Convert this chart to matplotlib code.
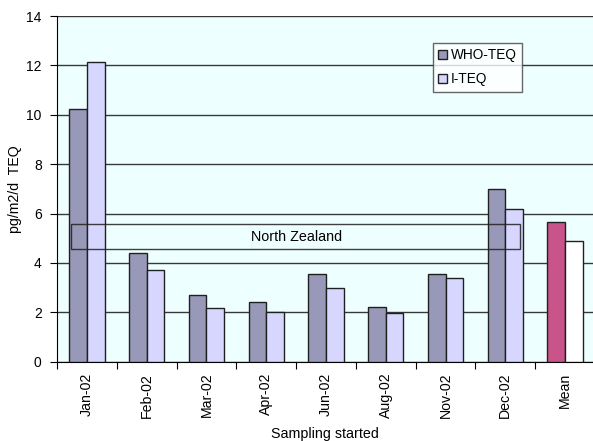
import matplotlib
matplotlib.use("Agg")
import matplotlib.pyplot as plt
import numpy as np
from matplotlib.patches import Rectangle

plt.rcParams['font.family'] = ['Liberation Sans', 'DejaVu Sans']

categories = ["Jan-02", "Feb-02", "Mar-02", "Apr-02", "Jun-02", "Aug-02", "Nov-02", "Dec-02", "Mean"]
who_teq = [10.22, 4.41, 2.71, 2.43, 3.56, 2.23, 3.56, 6.98, 5.64]
i_teq = [12.15, 3.70, 2.19, 2.00, 3.00, 1.96, 3.38, 6.17, 4.89]
region_low, region_high = 4.55, 5.57
region_label = "North Zealand"

who_color = "#9898B8"
i_color = "#D6D6FF"
mean_who_color = "#C8548A"
mean_i_color = "#FFFFFF"
edge = "#202020"

fig = plt.figure(figsize=(5.93, 4.41), dpi=100)
# plot area runs slightly past the right edge of the canvas
ax_h = 361.7 - 16
ax = fig.add_axes([57 / 593, 1 - 361.7 / 441, 538 / 593, ax_h / 441])
ax.set_facecolor("#EEFFFF")

x = np.arange(len(categories))
w = 0.295
who_colors = [who_color] * (len(categories) - 1) + [mean_who_color]
i_colors = [i_color] * (len(categories) - 1) + [mean_i_color]
ax.bar(x - w / 2, who_teq, w, color=who_colors, edgecolor=edge, linewidth=1.0, zorder=3, label="WHO-TEQ")
ax.bar(x + w / 2, i_teq, w, color=i_colors, edgecolor=edge, linewidth=1.0, zorder=3, label="I-TEQ")

ax.set_xlim(-0.5, len(categories) - 0.5)
ax.set_ylim(0, 14)
ax.set_yticks(np.arange(0, 15, 2))
ax.yaxis.grid(True, color="#383838", linewidth=1.0, zorder=1)
ax.set_axisbelow(True)

# regional band drawn over the bars
ax.add_patch(Rectangle((-0.26, region_low), 7.51, region_high - region_low,
                       fill=False, edgecolor="#202020", linewidth=1.0, zorder=5, alpha=0.85))
ax.text(3.5, (region_low + region_high) / 2, region_label, ha="center", va="center",
        fontsize=10.3, zorder=6)

ax.set_xticks(np.arange(-0.5, len(categories), 1.0), minor=False)
ax.set_xticklabels([])
ax.set_xticks(x, minor=True)
ax.set_xticklabels(categories, minor=True, rotation=90, fontsize=10.2)
ax.tick_params(axis="x", which="major", length=5, direction="out", color="#000000")
ax.tick_params(axis="x", which="minor", length=0, pad=8)
ax.tick_params(axis="y", length=5, direction="out", labelsize=10, pad=6)

for s in ["top", "right"]:
    ax.spines[s].set_visible(False)
ax.spines["left"].set_color("#000000")
ax.spines["bottom"].set_color("#000000")

ax.set_ylabel("pg/m2/d  TEQ", fontsize=10.2, va="center")
ax.yaxis.set_label_coords((15 - 57) / 538, 0.5)
ax.set_xlabel("Sampling started", fontsize=10.3, va="center")
ax.xaxis.set_label_coords(0.5 * 536 / 538, (361.7 - 434) / ax_h)

leg = ax.legend(loc="upper left", bbox_to_anchor=((432.7 - 57) / 538, (361.7 - 42.7) / ax_h),
                fontsize=9.8, frameon=True, fancybox=False, handlelength=0.65, handleheight=0.65,
                handletextpad=0.3, borderpad=0.4, labelspacing=0.75, borderaxespad=0)
leg.get_frame().set_edgecolor("#404040")
leg.get_frame().set_linewidth(1.0)
leg.set_zorder(10)

fig.savefig("out.png", dpi=100)
